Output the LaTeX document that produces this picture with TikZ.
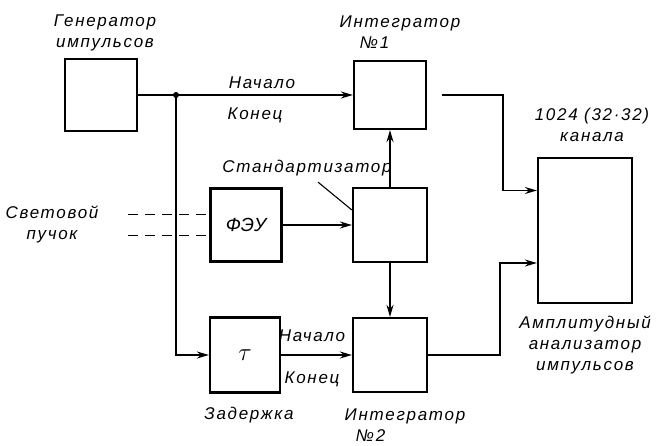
\documentclass[tikz,border=0pt]{standalone}
\usepackage{fontspec}
\setmainfont{Liberation Sans}
\usepackage{tikz}
\usetikzlibrary{arrows.meta,positioning,calc}

\begin{document}
\begin{tikzpicture}[x=1pt,y=-1pt,>={Stealth[length=12pt,width=7pt]},
 blk/.style={draw,line width=2.2pt,minimum width=72pt,minimum height=72pt,inner sep=0pt},
 lbl/.style={font=\fontsize{17}{21}\selectfont\itshape\addfontfeatures{LetterSpace=10},align=center,inner sep=0pt},
 wire/.style={line width=1.6pt},
 sig/.style={->,line width=1.6pt}]
 \useasboundingbox (0,0) rectangle (658,446);
 \node[blk] (gen) at (101,95) {};
 \node[blk,minimum height=68pt] (int1) at (390,95) {};
 \node[blk,minimum width=74pt,minimum height=74pt] (std) at (390,225) {};
 \node[blk,minimum width=74pt,minimum height=74pt] (int2) at (390,355) {};
 \node[blk,minimum width=71pt,minimum height=73pt,font=\fontsize{19}{21}\selectfont\itshape] (pmt) at (246,225) {ФЭУ};
 \node[blk,minimum width=70pt,minimum height=75pt,font=\fontsize{24}{24}\selectfont] (tau) at (245,355) {$\tau$};
 \node[blk,minimum width=94pt,minimum height=145pt] (ana) at (585,230.5) {};
 \coordinate (jn) at (176,95);
 \coordinate (a1) at ([yshift=40pt]ana.west);
 \coordinate (a2) at ([yshift=-32.5pt]ana.west);
 \coordinate (b1) at (128,214.5);
 \coordinate (b2) at (128,235.5);
 \draw[sig] (gen) -- (int1);
 \fill (jn) circle (3pt);
 \draw[sig] (jn) |- (tau);
 \draw[wire,dash pattern=on 10pt off 7pt] (b1) -- (b1 -| pmt.west);
 \draw[wire,dash pattern=on 10pt off 7pt] (b2) -- (b2 -| pmt.west);
 \draw[sig] (pmt) -- (std);
 \draw[sig] (std) -- (int1);
 \draw[sig] (std) -- (int2);
 \draw[sig] (tau) -- (int2);
 \draw[sig] ([xshift=15pt]int1.east) -| ([xshift=-34pt]a1) -- (a1);
 \draw[sig] (int2) -| ([xshift=-37pt]a2) -- (a2);
 \node[lbl] (genl) at (105,33) {Генератор\\импульсов};
 \node[lbl,align=left] (int1l) at (400,32) {Интегратор\\\hspace*{20pt}№1};
 \node[lbl] (st1) at (262,83) {Начало};
 \node[lbl] (en1) at (255,115) {Конец};
 \node[lbl] (stdl) at (307,168) {Стандартизатор};
 \draw[line width=1.1pt] ([xshift=11pt,yshift=-6pt]stdl.south) -- ([yshift=15pt]std.west);
 \node[lbl] (beam) at (52,224) {Световой\\пучок};
 \node[lbl] (st2) at (312,336) {Начало};
 \node[lbl] (en2) at (312,379) {Конец};
 \node[lbl] (dly) at (249,415) {Задержка};
 \node[lbl,align=left] (int2l) at (405,425) {Интегратор\\\hspace*{11pt}№2};
 \node[lbl] (chn) at (592,125) {1024 (32·32)\\канала};
 \node[lbl] (anal) at (585,345) {Амплитудный\\анализатор\\импульсов};
\end{tikzpicture}
\end{document}
